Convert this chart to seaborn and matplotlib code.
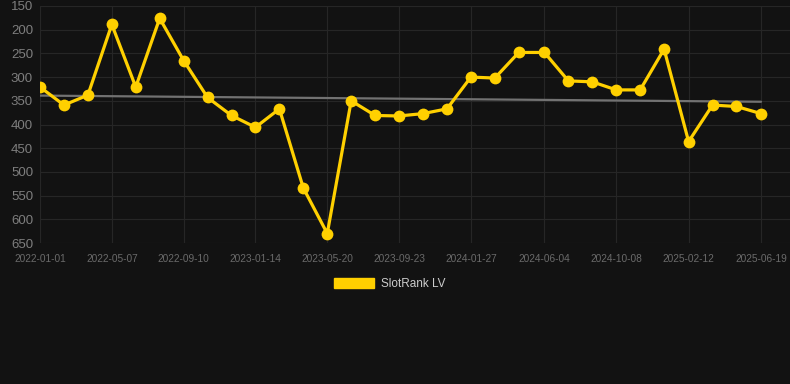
import numpy as np
import pandas as pd
import seaborn as sns
import matplotlib.pyplot as plt
from matplotlib.patches import Patch


# values (rank, lower is better)
tick_labels = ["2022-01-01", "2022-05-07", "2022-09-10", "2023-01-14", "2023-05-20", "2023-09-23",
               "2024-01-27", "2024-06-04", "2024-10-08", "2025-02-12", "2025-06-19"]
rank = [321, 359, 338, 189, 321, 176, 265, 343, 381, 406,
        367, 534, 630, 350, 381, 382, 377, 367, 300, 302,
        248, 248, 308, 310, 327, 327, 241, 436, 359, 362, 377]
trend = [339, 352]
series_name = "SlotRank LV"

tick_dates = pd.to_datetime(tick_labels)
# every labelled date is a data point, two more points sit between each pair (~6 weeks apart)
dates = []
for d in tick_dates[:-1]:
    dates += [d, d + pd.Timedelta(days=42), d + pd.Timedelta(days=84)]
dates.append(tick_dates[-1])

df = pd.DataFrame({"date": dates, "rank": rank})
df_trend = pd.DataFrame({"date": [dates[0], dates[-1]], "rank": trend})

bg = "#121212"
grid = "#262626"
yellow = "#FFD000"

sns.set_theme(style="dark")
plt.rcParams["font.family"] = ["Liberation Sans", "DejaVu Sans"]

fig = plt.figure(figsize=(7.9, 3.84), dpi=100, facecolor=bg)
ax = fig.add_axes([40 / 790, 141 / 384, 750 / 790, 237 / 384])
ax.set_facecolor(bg)

sns.lineplot(data=df_trend, x="date", y="rank", ax=ax, color="#727272", linewidth=1.6, zorder=2)
sns.lineplot(data=df, x="date", y="rank", ax=ax, color=yellow, linewidth=2.3,
             marker="o", markersize=8.5, markeredgewidth=0, zorder=3)

span = (dates[-1] - dates[0]).days
ax.set_xlim(dates[0], dates[0] + pd.Timedelta(days=span * 750 / 721))
ax.set_ylim(650, 150)
ax.set_yticks(np.arange(150, 651, 50))
ax.set_xticks(tick_dates)
ax.set_xticklabels(tick_labels)

ax.grid(True, color=grid, linewidth=0.8)
ax.tick_params(axis="y", colors="#7e7e7e", labelsize=9.5, length=0, pad=5)
ax.tick_params(axis="x", colors=grid, labelcolor="#6a6a6a", labelsize=7.3, length=6, pad=2)
ax.set_xlabel("")
ax.set_ylabel("")
for s in ax.spines.values():
    s.set_visible(False)

handles = [Patch(facecolor=yellow, edgecolor=yellow)]
fig.legend(handles, [series_name], loc="center", bbox_to_anchor=(390 / 790, 1 - 284 / 384),
           frameon=False, fontsize=8.5, labelcolor="#cccccc",
           handlelength=3.4, handleheight=1.0, handletextpad=0.6)

fig.savefig("out.png", dpi=100, facecolor=bg)
